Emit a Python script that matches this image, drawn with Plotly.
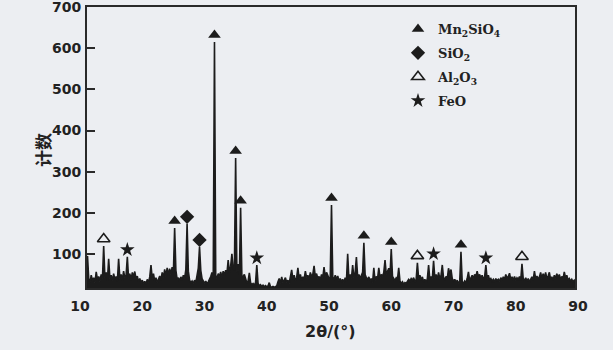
import numpy as np
import plotly.graph_objects as go

# XRD intensity (counts), 2θ from 10° to 90° in 0.2° steps
intensity = [
    28, 35, 30, 40, 32, 45, 95, 40, 30, 48, 35, 42, 30, 56, 38, 45, 33, 50, 40, 119, 42, 55, 36, 88, 40,
    48, 35, 52, 38, 45, 34, 88, 40, 50, 36, 58, 42, 48, 93, 40, 52, 36, 55, 44, 57, 38, 46, 32, 40, 30,
    36, 28, 33, 26, 38, 30, 44, 73, 40, 52, 34, 42, 30, 38, 46, 36, 55, 42, 62, 45, 66, 48, 64, 50, 68,
    55, 163, 60, 38, 42, 34, 44, 36, 48, 40, 62, 173, 58, 36, 30, 34, 28, 36, 30, 45, 65, 117, 60, 40, 32,
    28, 34, 27, 32, 38, 45, 55, 40, 615, 48, 40, 52, 45, 56, 42, 58, 48, 60, 52, 85, 55, 70, 100, 65, 60,
    333, 55, 75, 50, 212, 45, 45, 50, 36, 30, 34, 54, 30, 25, 28, 24, 30, 73, 28, 22, 25, 21, 24, 20, 23,
    20, 22, 30, 20, 19, 21, 19, 20, 22, 32, 40, 28, 44, 30, 38, 42, 30, 36, 28, 45, 61, 38, 48, 35, 42,
    66, 40, 50, 36, 44, 38, 58, 42, 48, 38, 55, 45, 50, 71, 44, 52, 40, 45, 38, 50, 42, 68, 45, 55, 48,
    40, 44, 219, 45, 36, 48, 38, 46, 34, 40, 32, 38, 30, 42, 35, 100, 38, 50, 40, 73, 42, 55, 92, 45, 50,
    40, 48, 55, 127, 50, 42, 38, 44, 35, 40, 30, 66, 35, 45, 40, 66, 42, 50, 45, 55, 85, 50, 58, 65, 48,
    112, 45, 40, 35, 42, 38, 66, 34, 28, 32, 26, 30, 28, 32, 38, 34, 40, 36, 42, 32, 38, 78, 40, 48, 36,
    44, 32, 38, 30, 40, 73, 38, 45, 40, 83, 42, 50, 38, 55, 40, 48, 73, 42, 38, 45, 40, 65, 50, 62, 40,
    34, 38, 30, 36, 28, 34, 105, 32, 28, 34, 30, 40, 56, 35, 42, 48, 40, 50, 45, 58, 44, 50, 42, 48, 38,
    45, 73, 40, 48, 36, 40, 34, 38, 32, 40, 35, 38, 33, 42, 36, 44, 38, 50, 40, 45, 53, 38, 44, 36, 45,
    35, 42, 38, 45, 36, 76, 40, 35, 42, 34, 40, 32, 38, 44, 36, 58, 40, 46, 38, 44, 55, 40, 52, 42, 55,
    40, 46, 55, 38, 44, 36, 48, 40, 52, 42, 50, 38, 45, 40, 56, 42, 48, 36, 40, 34, 38, 32, 36, 30, 34,
    30,
]
two_theta = np.round(10 + 0.2 * np.arange(len(intensity)), 1)

# Phase identification: 2θ positions of marked peaks
mn2sio4_peaks = [25.2, 31.6, 35.0, 35.8, 50.4, 55.6, 60.0, 71.2]
sio2_peaks = [27.2, 29.2]
al2o3_peaks = [13.8, 64.2, 81.0]
feo_peaks = [17.6, 38.4, 66.8, 75.2]

x_ticks = [10, 20, 30, 40, 50, 60, 70, 80, 90]
y_ticks = [100, 200, 300, 400, 500, 600, 700]

INK = "#1c1c1c"
BG = "#eceef2"
MARK_OFFSET = 17


def peak_y(positions):
    lookup = dict(zip(two_theta.tolist(), intensity))
    return [lookup[round(p, 1)] + MARK_OFFSET for p in positions]


fig = go.Figure()
fig.add_trace(go.Scatter(
    x=two_theta, y=intensity, mode="lines",
    line=dict(color=INK, width=1.6),
    fill="tozeroy", fillcolor=INK,
    showlegend=False, hoverinfo="skip",
))

phases = [
    ("Mn<sub>2</sub>SiO<sub>4</sub>", mn2sio4_peaks, "triangle-up", 11),
    ("SiO<sub>2</sub>", sio2_peaks, "diamond", 11),
    ("Al<sub>2</sub>O<sub>3</sub>", al2o3_peaks, "triangle-up-open", 11),
    ("FeO", feo_peaks, "star", 11),
]
for name, pos, sym, size in phases:
    fig.add_trace(go.Scatter(
        x=pos, y=peak_y(pos), mode="markers", name=name, legendgroup=name,
        marker=dict(symbol=sym, size=size, color=INK,
                    line=dict(color=INK, width=1.6 if "open" in sym else 0)),
        hoverinfo="skip",
    ))

# helper trace so the labelled x axis is drawn
fig.add_trace(go.Scatter(x=[10, 90], y=[17, 17], xaxis="x2", yaxis="y",
                         mode="lines", line=dict(width=0),
                         showlegend=False, hoverinfo="skip"))

W, H = 613, 350
tick_font = dict(family="DejaVu Sans", size=14, color="#222", weight="bold")

fig.update_layout(
    width=W, height=H,
    margin=dict(l=0, r=0, t=0, b=0, autoexpand=False),
    paper_bgcolor=BG, plot_bgcolor="rgba(0,0,0,0)",
    xaxis=dict(domain=[87 / W, 575 / W], range=[11.12, 89.52], automargin=False,
               showline=True, mirror=True, linecolor="#2a2a2a", linewidth=2,
               showgrid=False, zeroline=False, ticks="", showticklabels=False),
    xaxis2=dict(domain=[80 / W, 578 / W], range=[10, 90], anchor="y",
                automargin=False,
                tickvals=x_ticks, ticks="", showline=False, showgrid=False,
                zeroline=False, tickfont=tick_font, ticklabelstandoff=8,
                ticklabeloverflow="allow"),
    yaxis=dict(domain=[1 - 288 / H, 1 - 7 / H], range=[17, 700.3],
               automargin=False,
               tickvals=y_ticks, ticks="inside", ticklen=8, tickwidth=2,
               tickcolor="#2a2a2a",
               showline=True, mirror=True, linecolor="#2a2a2a", linewidth=2,
               showgrid=False, zeroline=False, tickfont=tick_font,
               ticklabelstandoff=1, ticklabeloverflow="allow"),
    legend=dict(x=398 / W, y=1 - 14 / H, xanchor="left", yanchor="top",
                bgcolor="rgba(0,0,0,0)", tracegroupgap=4,
                font=dict(family="DejaVu Serif", size=13, color="#222", weight="bold")),
    annotations=[
        dict(text="计数", xref="paper", yref="paper", x=42 / W, y=1 - 150 / H,
             xanchor="center", yanchor="middle",
             showarrow=False, textangle=-90,
             font=dict(family="Noto Sans CJK SC", size=17, color="#222", weight="bold")),
        dict(text="2θ/(°)", xref="paper", yref="paper", x=330 / W, y=1 - 331 / H,
             xanchor="center", yanchor="middle", showarrow=False,
             font=dict(family="DejaVu Sans", size=16, color="#222", weight="bold")),
    ],
)

fig.write_html("out.html")
